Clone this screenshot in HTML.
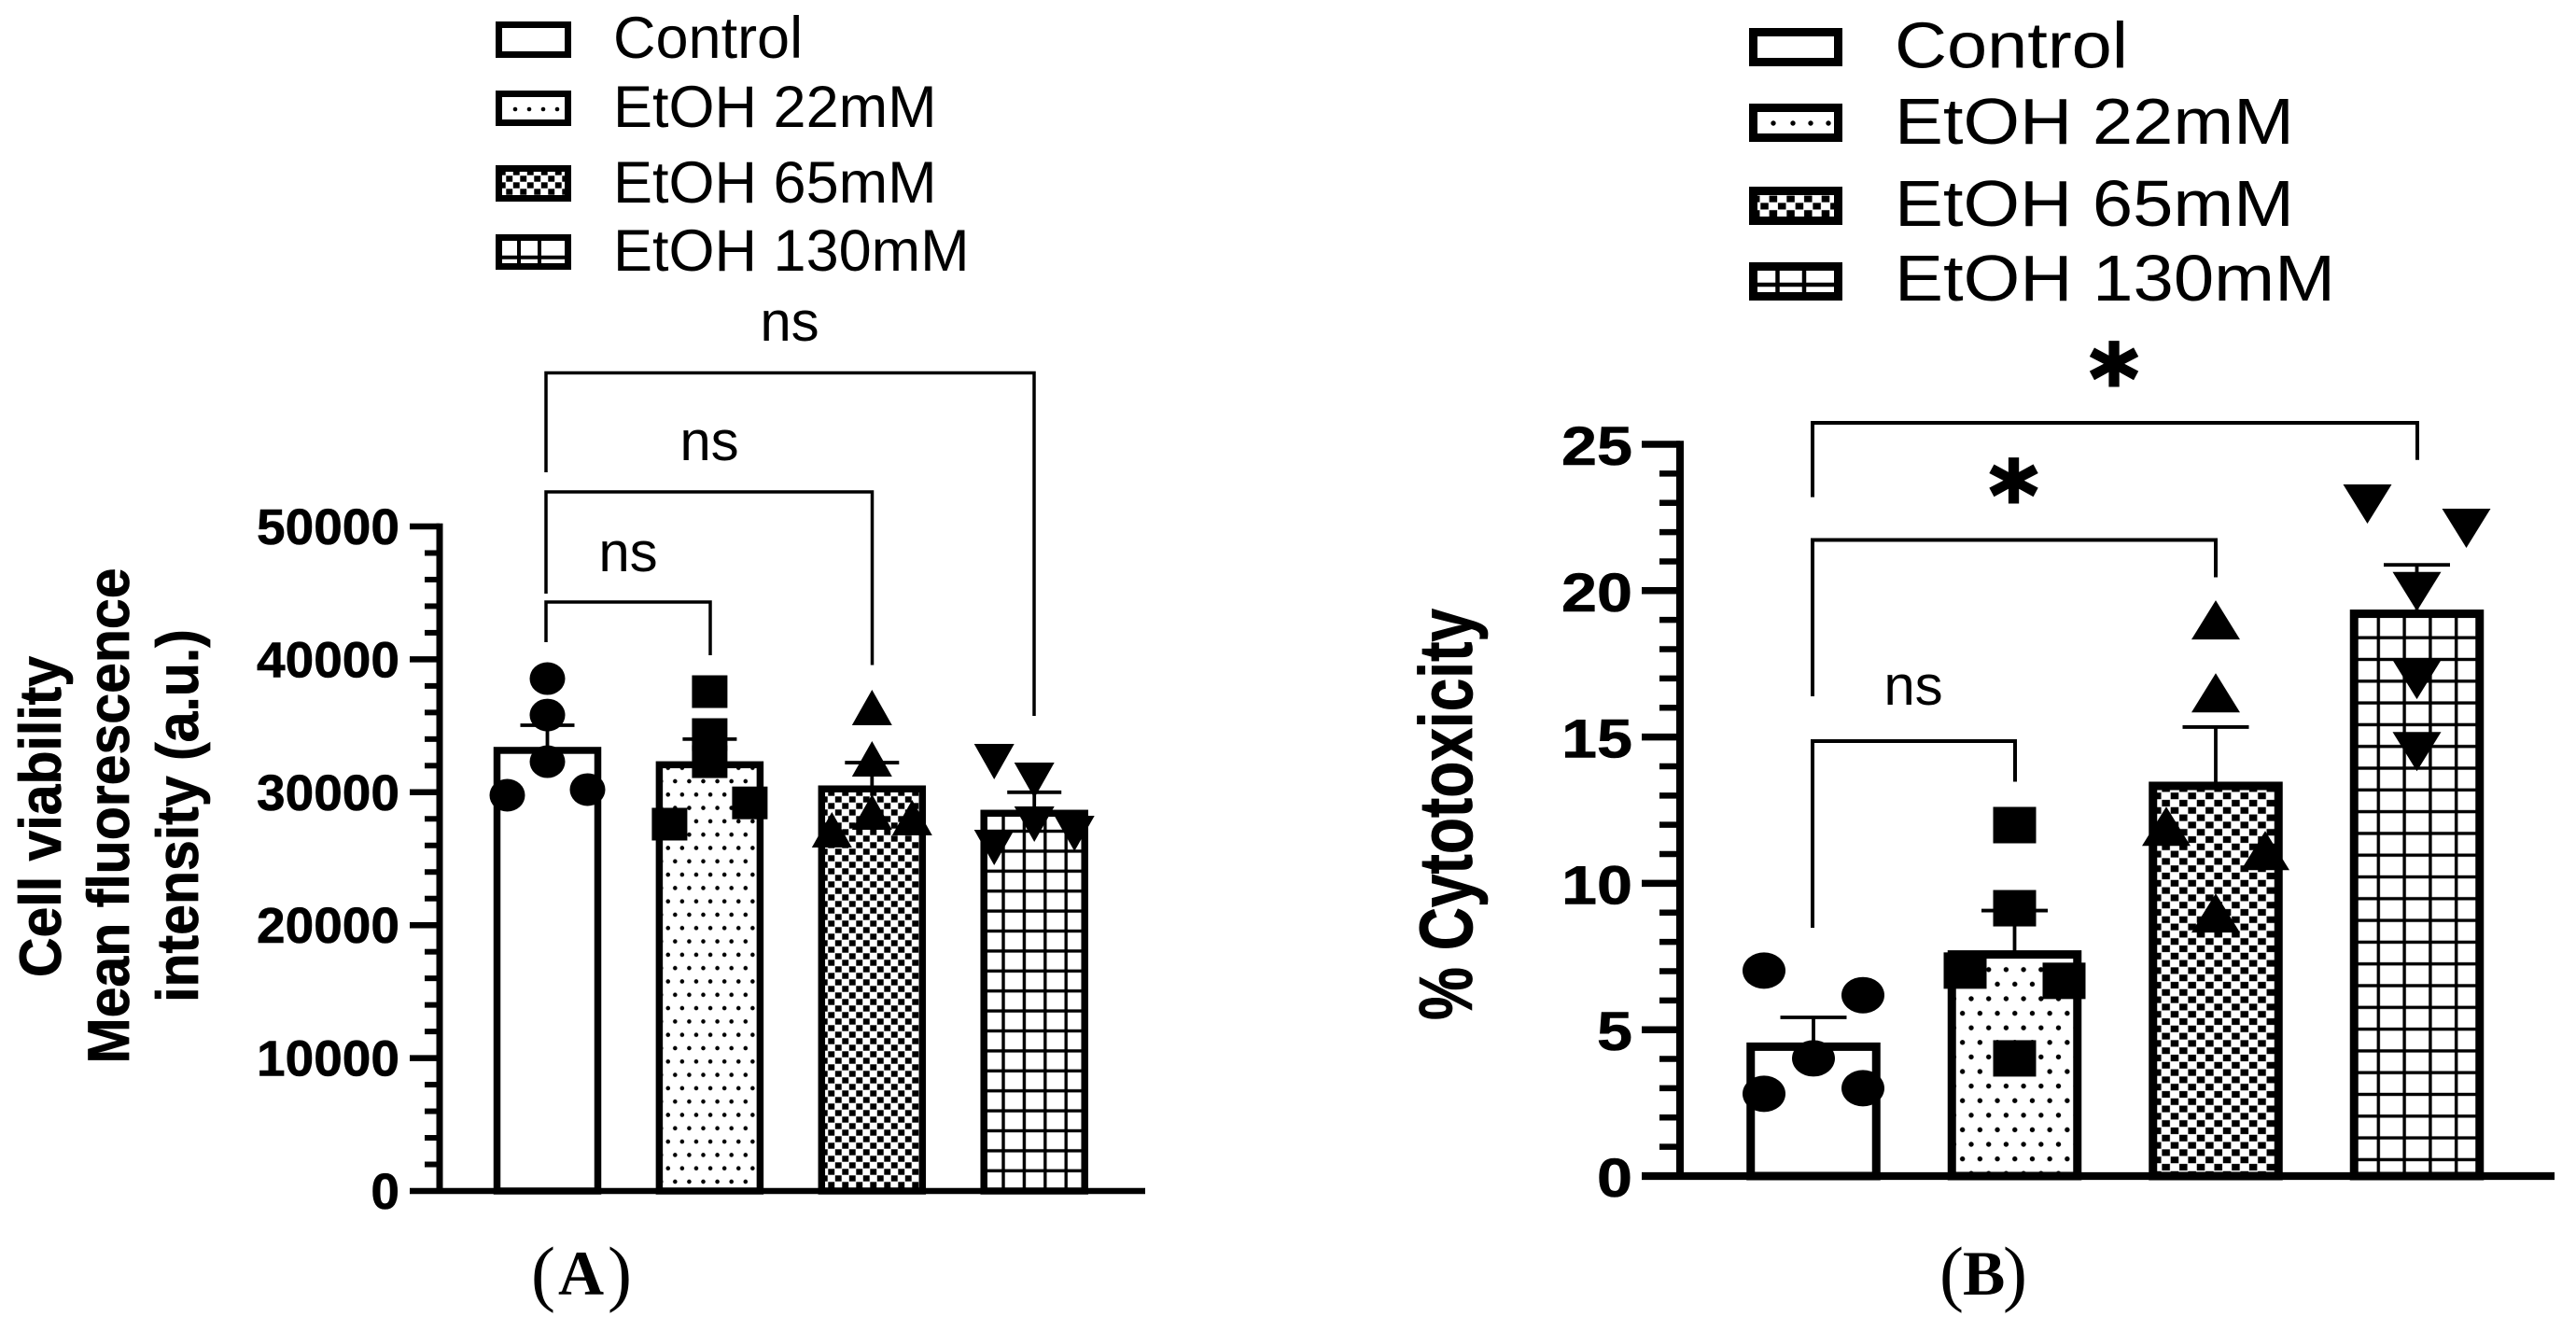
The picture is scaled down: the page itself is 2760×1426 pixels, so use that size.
<!DOCTYPE html>
<html lang="en">
<head>
<meta charset="utf-8">
<title>Cell viability and cytotoxicity charts</title>
<style>
html,body{margin:0;padding:0;background:#fff;}
svg{display:block;}
text{font-family:"Liberation Sans",sans-serif;fill:#000;}
.serif{font-family:"Liberation Serif",serif;}
</style>
</head>
<body>
<svg id="figure" xmlns="http://www.w3.org/2000/svg" width="2760" height="1426" viewBox="0 0 2760 1426">
<defs>
<pattern id="dots-a" patternUnits="userSpaceOnUse" x="723.3" y="837" width="15.1" height="28.6">
<circle cx="0" cy="0" r="2.3"/><circle cx="15.1" cy="0" r="2.3"/><circle cx="0" cy="28.6" r="2.3"/><circle cx="15.1" cy="28.6" r="2.3"/><circle cx="7.55" cy="14.3" r="2.3"/>
</pattern>
<pattern id="check-a" patternUnits="userSpaceOnUse" x="887" y="930" width="15" height="14">
<rect width="15" height="14" fill="#fff"/><rect x="0.3" y="0.3" width="6.9" height="6.4" fill="#000"/><rect x="7.8" y="7.3" width="6.9" height="6.4" fill="#000"/>
</pattern>
<pattern id="grid-a" patternUnits="userSpaceOnUse" x="1075" y="933.3" width="22.4" height="21.4">
<rect width="22.4" height="21.4" fill="#fff"/><rect x="-1.7" y="0" width="3.4" height="21.4"/><rect x="20.7" y="0" width="3.4" height="21.4"/><rect x="0" y="-1.7" width="22.4" height="3.4"/><rect x="0" y="19.7" width="22.4" height="3.4"/>
</pattern>
<pattern id="dots-b" patternUnits="userSpaceOnUse" x="2112" y="1070" width="18.7" height="31.2">
<circle cx="0" cy="0" r="2.7"/><circle cx="18.7" cy="0" r="2.7"/><circle cx="0" cy="31.2" r="2.7"/><circle cx="18.7" cy="31.2" r="2.7"/><circle cx="9.35" cy="15.6" r="2.7"/>
</pattern>
<pattern id="check-b" patternUnits="userSpaceOnUse" x="2325.3" y="1082.8" width="18.7" height="15.6">
<rect width="18.7" height="15.6" fill="#fff"/><rect x="0.4" y="0.35" width="8.55" height="7.1" fill="#000"/><rect x="9.75" y="8.15" width="8.55" height="7.1" fill="#000"/>
</pattern>
<pattern id="grid-b" patternUnits="userSpaceOnUse" x="2548.3" y="1079.3" width="27.8" height="23.3">
<rect width="27.8" height="23.3" fill="#fff"/><rect x="-1.7" y="0" width="3.4" height="23.3"/><rect x="26.1" y="0" width="3.4" height="23.3"/><rect x="0" y="-1.7" width="27.8" height="3.4"/><rect x="0" y="21.6" width="27.8" height="3.4"/>
</pattern>
</defs>

<g id="panel-a">
  <g>
    <g>
      <rect x="534.5" y="26.5" width="74" height="32" fill="#fff" stroke="#000" stroke-width="7"/>
      <text x="657" y="62" font-size="63">Control</text>
    </g>
    <g>
      <rect x="534.5" y="100.5" width="74" height="31" fill="#fff" stroke="#000" stroke-width="7"/>
      <circle cx="552" cy="117" r="2.3"/><circle cx="567" cy="117" r="2.3"/><circle cx="582" cy="117" r="2.3"/><circle cx="597" cy="117" r="2.3"/>
      <text x="657" y="136" font-size="63">EtOH 22mM</text>
    </g>
    <g>
      <rect x="534.5" y="180.5" width="74" height="32" fill="url(#check-a)" stroke="#000" stroke-width="7"/>
      <text x="657" y="217" font-size="63">EtOH 65mM</text>
    </g>
    <g>
      <rect x="534.5" y="254.5" width="74" height="31" fill="#fff" stroke="#000" stroke-width="7"/>
      <path d="M556 255V285M578 255V285M535 275.7H608" stroke="#000" stroke-width="4" fill="none"/>
      <text x="657" y="290" font-size="63">EtOH 130mM</text>
    </g>
  </g>
  <g fill="none" stroke="#000" stroke-width="3.5">
    <path d="M585 506V399.5H1108V767"/>
    <path d="M585 636V527H934.5V712.5"/>
    <path d="M585 688V645H761V702"/>
  </g>
  <text x="846" y="365" font-size="60" text-anchor="middle">ns</text>
  <text x="760" y="493" font-size="60" text-anchor="middle">ns</text>
  <text x="673" y="612" font-size="60" text-anchor="middle">ns</text>
  <g font-weight="700" font-size="59" text-anchor="middle" stroke="#000" stroke-width="0.7">
    <text transform="translate(65,875) rotate(-90) scale(1,1.07)">Cell viability</text>
    <text transform="translate(138,874) rotate(-90) scale(1,1.07)">Mean fluorescence</text>
    <text transform="translate(212,874) rotate(-90) scale(1,1.07)">intensity (a.u.)</text>
  </g>
  <g id="plot-a"></g>
  <text class="serif" y="1388"><tspan x="569" y="1390" font-size="78">(</tspan><tspan x="598" y="1387" font-size="68" font-weight="700">A</tspan><tspan x="651" y="1390" font-size="78">)</tspan></text>
</g>

<g id="panel-b">
  <g>
    <g>
      <rect x="1878.5" y="34.5" width="91" height="32" fill="#fff" stroke="#000" stroke-width="9"/>
      <text x="2030" y="72.5" font-size="70" textLength="250" lengthAdjust="spacingAndGlyphs">Control</text>
    </g>
    <g>
      <rect x="1878.5" y="115.5" width="91" height="32" fill="#fff" stroke="#000" stroke-width="9"/>
      <circle cx="1900" cy="132" r="2.7"/><circle cx="1921" cy="132" r="2.7"/><circle cx="1940" cy="132" r="2.7"/><circle cx="1959" cy="132" r="2.7"/>
      <text x="2030" y="154" font-size="70" textLength="428" lengthAdjust="spacingAndGlyphs">EtOH 22mM</text>
    </g>
    <g>
      <rect x="1878.5" y="204.5" width="91" height="32" fill="url(#check-b)" stroke="#000" stroke-width="9"/>
      <text x="2030" y="242" font-size="70" textLength="428" lengthAdjust="spacingAndGlyphs">EtOH 65mM</text>
    </g>
    <g>
      <rect x="1878.5" y="285.5" width="91" height="32" fill="#fff" stroke="#000" stroke-width="9"/>
      <path d="M1904.5 286V317M1933 286V317M1879 305H1969" stroke="#000" stroke-width="4.5" fill="none"/>
      <text x="2030" y="322" font-size="70" textLength="472" lengthAdjust="spacingAndGlyphs">EtOH 130mM</text>
    </g>
  </g>
  <g fill="none" stroke="#000" stroke-width="4">
    <path d="M1942 532.6V453H2590V492.7"/>
    <path d="M1942 746V578.5H2374V618.5"/>
    <path d="M1942 994V794H2159V837.5"/>
  </g>
  <text x="2265" y="441" font-size="100" font-weight="700" text-anchor="middle" stroke="#000" stroke-width="3" style="font-family:'DejaVu Sans',sans-serif">*</text>
  <text x="2157.5" y="566" font-size="100" font-weight="700" text-anchor="middle" stroke="#000" stroke-width="3" style="font-family:'DejaVu Sans',sans-serif">*</text>
  <text x="2050" y="755" font-size="60" text-anchor="middle">ns</text>
  <text transform="translate(1577,872.5) rotate(-90) scale(1,1.3)" font-size="62" font-weight="700" text-anchor="middle" stroke="#000" stroke-width="0.6" textLength="441" lengthAdjust="spacingAndGlyphs">% Cytotoxicity</text>
  <g id="plot-b"></g>
  <text class="serif" y="1388"><tspan x="2078" y="1390" font-size="78">(</tspan><tspan x="2103" y="1387" font-size="68" font-weight="700">B</tspan><tspan x="2146" y="1390" font-size="78">)</tspan></text>
</g>
</svg>

<script>
// Panel A: cell viability (a.u.)
const groupNames = ['control', 'etoh-22mm', 'etoh-65mm', 'etoh-130mm'];
const viabilityTicks = [0, 10000, 20000, 30000, 40000, 50000];
const viabilityMinorStep = 2000;
const viabilityMeans = [33150, 32070, 30250, 28420];
const viabilityErrorTops = [35040, 34000, 32230, 30000];
const viabilityControl = [38550, 35810, 32300, 29775, 30200];
const viabilityEtoh22 = [37570, 34340, 32300, 27600, 29200];
const viabilityEtoh65 = [36380, 32510, 28510, 27180, 28090];
const viabilityEtoh130 = [32300, 30900, 27600, 25840, 26900];
const viabilitySlots = [[0, 0, 0, -1, 1], [0, 0, 0, -1, 1], [0, 0, 0, -1, 1], [-1, 0, 0, -1, 1]];

// Panel B: % cytotoxicity
const cytotoxTicks = [0, 5, 10, 15, 20, 25];
const cytotoxMinorStep = 1;
const cytotoxMeans = [4.42, 7.57, 13.33, 19.21];
const cytotoxErrorTops = [5.42, 9.07, 15.34, 20.88];
const cytotoxControl = [7.02, 6.18, 4.02, 2.81, 3.0];
const cytotoxEtoh22 = [11.99, 9.15, 7.02, 6.67, 4.02];
const cytotoxEtoh65 = [19.0, 16.51, 11.95, 11.12, 8.99];
const cytotoxEtoh130 = [22.96, 22.13, 19.97, 16.96, 14.5];
const cytotoxSlots = [[-1, 1, 0, -1, 1], [0, 0, -1, 1, 0], [0, 0, -1, 1, 0], [-1, 1, 0, 0, 0]];

const SVG_NS = 'http://www.w3.org/2000/svg';
function make(tag, attrs, parent) {
  const node = document.createElementNS(SVG_NS, tag);
  for (const key in attrs) node.setAttribute(key, attrs[key]);
  parent.appendChild(node);
  return node;
}

function drawPanel(root, layout, ticks, minorStep, means, errorTops, series, slots) {
  const yScale = v => layout.y0 - (v / ticks[ticks.length - 1]) * (layout.y0 - layout.yTop);
  const xScale = i => layout.x0 + i * layout.spacing;
  const fills = ['#fff', layout.dots, layout.check, layout.grid];

  means.forEach((mean, i) => {
    const bar = make('rect', {
      x: xScale(i) - layout.barWidth / 2, y: yScale(mean),
      width: layout.barWidth, height: yScale(0) - yScale(mean),
      fill: fills[i], stroke: '#000', 'stroke-width': layout.barStroke
    }, root);
    
    
  });

  errorTops.forEach((top, i) => {
    const err = make('path', {
      d: 'M' + xScale(i) + ' ' + yScale(means[i]) + 'V' + yScale(top) +
         'M' + (xScale(i) - layout.capWidth / 2) + ' ' + yScale(top) + 'H' + (xScale(i) + layout.capWidth / 2),
      stroke: '#000', 'stroke-width': layout.errStroke, fill: 'none'
    }, root);
    
    
  });

  series.forEach((values, i) => {
    values.forEach((value, j) => {
      const cx = xScale(i) + slots[i][j] * layout.spread;
      const cy = yScale(value);
      let mark;
      if (i === 0) {
        mark = make('ellipse', { cx: cx, cy: cy, rx: layout.rx, ry: layout.ry, fill: '#000' }, root);
      } else if (i === 1) {
        mark = make('rect', { x: cx - layout.sqW / 2, y: cy - layout.sqH / 2, width: layout.sqW, height: layout.sqH, fill: '#000' }, root);
      } else {
        const dir = i === 2 ? 1 : -1;
        const tipY = cy - dir * layout.triH / 2;
        const baseY = cy + dir * layout.triH / 2;
        mark = make('polygon', {
          points: cx + ',' + tipY + ' ' + (cx - layout.triW / 2) + ',' + baseY + ' ' + (cx + layout.triW / 2) + ',' + baseY,
          fill: '#000'
        }, root);
      }
      
      
    });
  });

  const yLine = make('line', {
    x1: layout.axisX, x2: layout.axisX, y1: yScale(ticks[ticks.length - 1]) - layout.majorStroke / 2, y2: yScale(0),
    stroke: '#000', 'stroke-width': layout.axisStroke
  }, root);
  
  

  const xLine = make('line', {
    x1: layout.axisX - layout.majorLen, x2: layout.xEnd, y1: yScale(0), y2: yScale(0),
    stroke: '#000', 'stroke-width': layout.baseStroke
  }, root);
  
  

  const topValue = ticks[ticks.length - 1];
  for (let v = 0; v <= topValue + 1e-9; v += minorStep) {
    const isMajor = ticks.indexOf(v) >= 0;
    if (v === 0) continue;
    const tick = make('line', {
      x1: layout.axisX - (isMajor ? layout.majorLen : layout.minorLen), x2: layout.axisX,
      y1: yScale(v), y2: yScale(v), stroke: '#000', 'stroke-width': isMajor ? layout.majorStroke : layout.minorStroke
    }, root);
    
    
  }

  ticks.forEach(v => {
    const label = String(v);
    const tickLabel = make('text', {
      x: layout.labelX, y: yScale(v) + layout.labelDy, 'font-size': layout.labelSize,
      'font-weight': 700, 'text-anchor': 'end', stroke: '#000', 'stroke-width': 0.6,
      textLength: label.length * layout.digitWidth, lengthAdjust: 'spacingAndGlyphs'
    }, root);
    tickLabel.textContent = label;
    
    
  });
}

drawPanel(document.getElementById('plot-a'), {
  y0: 1276, yTop: 564, x0: 586.5, spacing: 173.9, barWidth: 108, barStroke: 7.5,
  capWidth: 58, errStroke: 3.8, spread: 43, rx: 19, ry: 17.5, sqW: 38, sqH: 35, triW: 43, triH: 38,
  axisX: 471, xEnd: 1227, axisStroke: 7, baseStroke: 6.5, majorStroke: 6.5, minorStroke: 6, majorLen: 32, minorLen: 16,
  labelX: 428, labelDy: 19, labelSize: 54, digitWidth: 30.6,
  dots: 'url(#dots-a)', check: 'url(#check-a)', grid: 'url(#grid-a)'
}, viabilityTicks, viabilityMinorStep, viabilityMeans, viabilityErrorTops,
  [viabilityControl, viabilityEtoh22, viabilityEtoh65, viabilityEtoh130], viabilitySlots);

drawPanel(document.getElementById('plot-b'), {
  y0: 1260, yTop: 476, x0: 1943, spacing: 215.5, barWidth: 134.5, barStroke: 9,
  capWidth: 71, errStroke: 3.8, spread: 53, rx: 23, ry: 19.5, sqW: 46, sqH: 39, triW: 52, triH: 42,
  axisX: 1800, xEnd: 2737, axisStroke: 8, baseStroke: 8.3, majorStroke: 7.5, minorStroke: 6.5, majorLen: 41, minorLen: 22,
  labelX: 1749, labelDy: 22, labelSize: 58, digitWidth: 38,
  dots: 'url(#dots-b)', check: 'url(#check-b)', grid: 'url(#grid-b)'
}, cytotoxTicks, cytotoxMinorStep, cytotoxMeans, cytotoxErrorTops,
  [cytotoxControl, cytotoxEtoh22, cytotoxEtoh65, cytotoxEtoh130], cytotoxSlots);
</script>
</body>
</html>
